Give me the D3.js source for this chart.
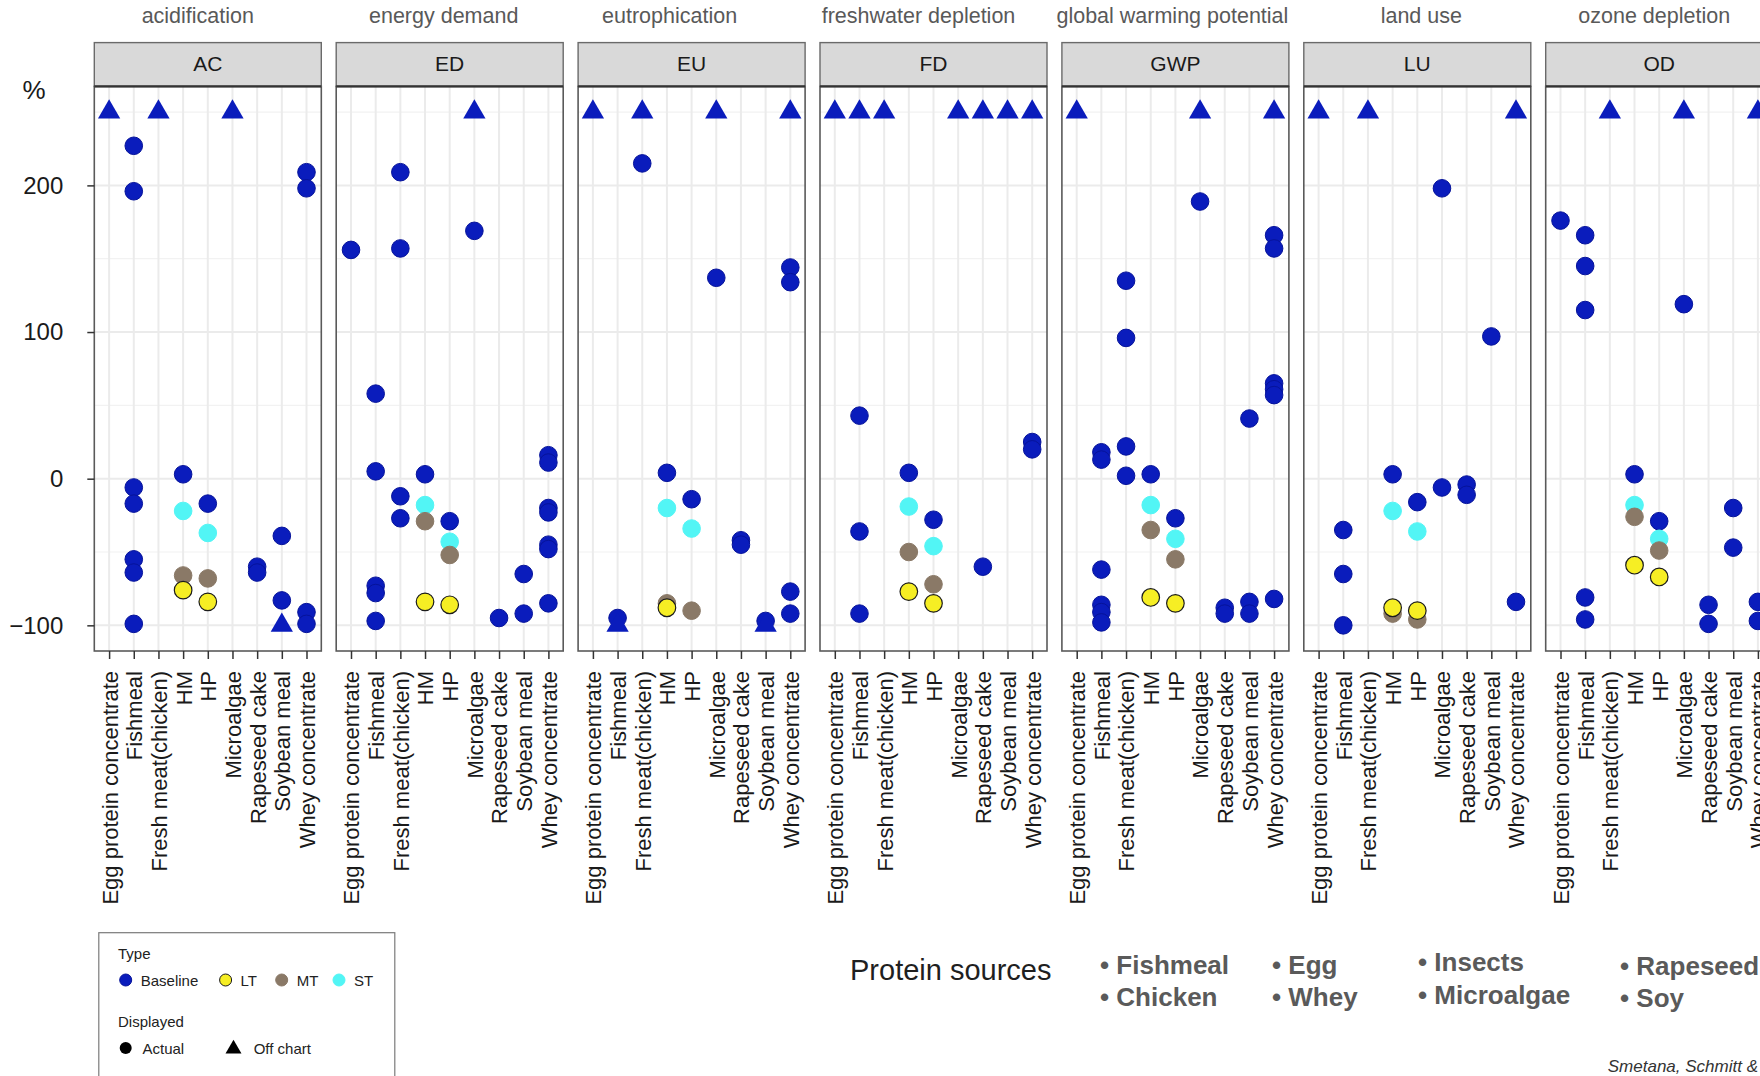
<!DOCTYPE html>
<html>
<head>
<meta charset="utf-8">
<script src="https://cdn.jsdelivr.net/npm/d3@7"></script>
<style>
  html, body { margin: 0; padding: 0; background: #fff; overflow: hidden; }
  text { font-family: "Liberation Sans", Arial, Helvetica, sans-serif; }
</style>
</head>
<body>
<svg id="chart" width="1760" height="1076"></svg>
<script>
// ---- data ---------------------------------------------------------------
const categories = ["Egg protein concentrate", "Fishmeal", "Fresh meat(chicken)", "HM", "HP",
                    "Microalgae", "Rapeseed cake", "Soybean meal", "Whey concentrate"];
const impactCodes = ["AC", "ED", "EU", "FD", "GWP", "LU", "OD"];
const impactNames = ["acidification", "energy demand", "eutrophication", "freshwater depletion",
                     "global warming potential", "land use", "ozone depletion"];
const typeNames = ["Baseline", "LT", "MT", "ST"];
const displayedNames = ["Actual", "Off chart"];
const yTicks = [-100, 0, 100, 200];
const proteinSources = [["Fishmeal", "Chicken"], ["Egg", "Whey"], ["Insects", "Microalgae"], ["Rapeseed", "Soy"]];
const citation = "Smetana, Schmitt &";

// rows: [category index, type, change in %, 1 = off chart (drawn at the cap)]
const AC = [
  [0,"Baseline",250,1], [1,"Baseline",227], [1,"Baseline",196], [1,"Baseline",-6], [1,"Baseline",-17],
  [1,"Baseline",-55], [1,"Baseline",-64], [1,"Baseline",-99], [2,"Baseline",250,1], [3,"Baseline",3],
  [4,"Baseline",-17], [5,"Baseline",250,1], [6,"Baseline",-60], [6,"Baseline",-64], [7,"Baseline",-39],
  [7,"Baseline",-83], [7,"Baseline",-100,1], [8,"Baseline",209], [8,"Baseline",198], [8,"Baseline",-91],
  [8,"Baseline",-99],
  [3,"MT",-66], [4,"MT",-68], [3,"ST",-22], [4,"ST",-37], [3,"LT",-76], [4,"LT",-84]
];
const ED = [
  [0,"Baseline",156], [1,"Baseline",58], [1,"Baseline",5], [1,"Baseline",-73], [1,"Baseline",-78],
  [1,"Baseline",-97], [2,"Baseline",209], [2,"Baseline",157], [2,"Baseline",-12], [2,"Baseline",-27],
  [3,"Baseline",3], [4,"Baseline",-29], [5,"Baseline",250,1], [5,"Baseline",169], [6,"Baseline",-95],
  [7,"Baseline",-65], [7,"Baseline",-92], [8,"Baseline",16], [8,"Baseline",11], [8,"Baseline",-20],
  [8,"Baseline",-23], [8,"Baseline",-45], [8,"Baseline",-48], [8,"Baseline",-85],
  [3,"MT",-29], [4,"MT",-52], [3,"ST",-18], [4,"ST",-43], [3,"LT",-84], [4,"LT",-86]
];
const EU = [
  [0,"Baseline",250,1], [1,"Baseline",-95], [1,"Baseline",-100,1], [2,"Baseline",250,1], [2,"Baseline",215],
  [3,"Baseline",4], [4,"Baseline",-14], [5,"Baseline",250,1], [5,"Baseline",137], [6,"Baseline",-42],
  [6,"Baseline",-45], [7,"Baseline",-97], [7,"Baseline",-100,1], [8,"Baseline",250,1], [8,"Baseline",144],
  [8,"Baseline",134], [8,"Baseline",-77], [8,"Baseline",-92],
  [3,"MT",-85], [4,"MT",-90], [3,"ST",-20], [4,"ST",-34], [3,"LT",-88]
];
const FD = [
  [0,"Baseline",250,1], [1,"Baseline",250,1], [1,"Baseline",43], [1,"Baseline",-36], [1,"Baseline",-92],
  [2,"Baseline",250,1], [3,"Baseline",4], [4,"Baseline",-28], [5,"Baseline",250,1], [6,"Baseline",250,1],
  [6,"Baseline",-60], [7,"Baseline",250,1], [8,"Baseline",250,1], [8,"Baseline",25], [8,"Baseline",20],
  [3,"MT",-50], [4,"MT",-72], [3,"ST",-19], [4,"ST",-46], [3,"LT",-77], [4,"LT",-85]
];
const GWP = [
  [0,"Baseline",250,1], [1,"Baseline",18], [1,"Baseline",13], [1,"Baseline",-62], [1,"Baseline",-86],
  [1,"Baseline",-91], [1,"Baseline",-98], [2,"Baseline",135], [2,"Baseline",96], [2,"Baseline",22],
  [2,"Baseline",2], [3,"Baseline",3], [4,"Baseline",-27], [5,"Baseline",250,1], [5,"Baseline",189],
  [6,"Baseline",-88], [6,"Baseline",-92], [7,"Baseline",41], [7,"Baseline",-84], [7,"Baseline",-92],
  [8,"Baseline",250,1], [8,"Baseline",166], [8,"Baseline",157], [8,"Baseline",65], [8,"Baseline",61],
  [8,"Baseline",57], [8,"Baseline",-82],
  [3,"MT",-35], [4,"MT",-55], [3,"ST",-18], [4,"ST",-41], [3,"LT",-81], [4,"LT",-85]
];
const LU = [
  [0,"Baseline",250,1], [1,"Baseline",-35], [1,"Baseline",-65], [1,"Baseline",-100], [2,"Baseline",250,1],
  [3,"Baseline",3], [4,"Baseline",-16], [5,"Baseline",198], [5,"Baseline",-6], [6,"Baseline",-4],
  [6,"Baseline",-11], [7,"Baseline",97], [8,"Baseline",250,1], [8,"Baseline",-84],
  [3,"MT",-92], [4,"MT",-96], [3,"ST",-22], [4,"ST",-36], [3,"LT",-88], [4,"LT",-90]
];
const OD = [
  [0,"Baseline",176], [1,"Baseline",166], [1,"Baseline",145], [1,"Baseline",115], [1,"Baseline",-81],
  [1,"Baseline",-96], [2,"Baseline",250,1], [3,"Baseline",3], [4,"Baseline",-29], [5,"Baseline",250,1],
  [5,"Baseline",119], [6,"Baseline",-86], [6,"Baseline",-99], [7,"Baseline",-20], [7,"Baseline",-47],
  [8,"Baseline",250,1], [8,"Baseline",-84], [8,"Baseline",-97],
  [3,"MT",-26], [4,"MT",-49], [3,"ST",-18], [4,"ST",-41], [3,"LT",-59], [4,"LT",-67]
];
const panelData = [AC, ED, EU, FD, GWP, LU, OD];

// ---- layout & style ----------------------------------------------------
const panelLeft0 = 94.3, panelStep = 241.9, panelW = 227;
const stripTop = 42.6, panelTop = 86.4, panelBottom = 651;
const titleShift = [-10, -6, -22, -15, -3, 4, -5];
const typeFill = { Baseline: "#0a1cbc", LT: "#f6ee24", MT: "#8a7967", ST: "#52f5f5" };
const typeStroke = { Baseline: "#06139a", LT: "#1b1b1b", MT: "#8a7967", ST: "#52f5f5" };
const drawOrder = { Baseline: 0, ST: 1, MT: 2, LT: 3 };
const dotR = 8.8;

const svg = d3.select("#chart");

const y = d3.scaleLinear().domain([-117.5, 267.5]).range([panelBottom, panelTop]);
const x = d3.scalePoint().domain(categories).range([0, panelW]).padding(0.6);
const tri = d3.symbol().type(d3.symbolTriangle).size(215);

impactCodes.forEach((code, i) => {
  const left = panelLeft0 + i * panelStep;
  const g = svg.append("g").attr("transform", `translate(${left},0)`);

  // impact name above the strip
  g.append("text")
    .attr("x", panelW / 2 + titleShift[i]).attr("y", 16)
    .attr("text-anchor", "middle").attr("dominant-baseline", "central")
    .attr("font-size", 21.5).attr("fill", "#595959")
    .text(impactNames[i]);

  // panel background and grid
  g.append("rect").attr("x", 0).attr("y", panelTop)
    .attr("width", panelW).attr("height", panelBottom - panelTop).attr("fill", "#fff");

  g.selectAll("line.minor").data([-50, 50, 150, 250]).join("line")
    .attr("x1", 0).attr("x2", panelW)
    .attr("y1", d => y(d)).attr("y2", d => y(d))
    .attr("stroke", "#f2f2f2").attr("stroke-width", 1.2);

  g.selectAll("line.major").data(yTicks).join("line")
    .attr("x1", 0).attr("x2", panelW)
    .attr("y1", d => y(d)).attr("y2", d => y(d))
    .attr("stroke", "#ebebeb").attr("stroke-width", 2);

  g.selectAll("line.vgrid").data(categories).join("line")
    .attr("x1", d => x(d)).attr("x2", d => x(d))
    .attr("y1", panelTop).attr("y2", panelBottom)
    .attr("stroke", "#ebebeb").attr("stroke-width", 2);

  // points
  const rows = panelData[i].slice().sort((a, b) => drawOrder[a[1]] - drawOrder[b[1]]);
  rows.forEach(r => {
    const cx = x(categories[r[0]]), cy = y(r[2]);
    if (r[3]) {
      g.append("path").attr("d", tri)
        .attr("transform", `translate(${cx},${cy})`)
        .attr("fill", typeFill[r[1]]);
    } else {
      g.append("circle").attr("cx", cx).attr("cy", cy).attr("r", dotR)
        .attr("fill", typeFill[r[1]])
        .attr("stroke", typeStroke[r[1]]).attr("stroke-width", r[1] === "LT" ? 1.2 : 1);
    }
  });

  // panel border
  g.append("rect").attr("x", 0).attr("y", panelTop)
    .attr("width", panelW).attr("height", panelBottom - panelTop)
    .attr("fill", "none").attr("stroke", "#5a5a5a").attr("stroke-width", 1.6);

  // strip
  g.append("rect").attr("x", 0).attr("y", stripTop)
    .attr("width", panelW).attr("height", panelTop - stripTop)
    .attr("fill", "#d9d9d9").attr("stroke", "#6a6a6a").attr("stroke-width", 1.4);
  g.append("line").attr("x1", 0).attr("x2", panelW).attr("y1", panelTop).attr("y2", panelTop)
    .attr("stroke", "#333").attr("stroke-width", 2.4);
  g.append("text")
    .attr("x", panelW / 2).attr("y", (stripTop + panelTop) / 2 - 1)
    .attr("text-anchor", "middle").attr("dominant-baseline", "central")
    .attr("font-size", 21).attr("fill", "#1a1a1a")
    .text(code);

  // x axis
  const xa = g.append("g").attr("transform", `translate(0,${panelBottom})`)
    .call(d3.axisBottom(x).tickSize(8));
  xa.select(".domain").remove();
  xa.selectAll(".tick line").attr("stroke", "#333").attr("stroke-width", 1.5);
  xa.selectAll(".tick text")
    .attr("transform", "rotate(-90)")
    .attr("text-anchor", "end")
    .attr("x", -20).attr("y", 0).attr("dy", "0.36em")
    .attr("font-size", 22).attr("fill", "#1a1a1a")
    .style("font-family", '"Liberation Sans", Arial, sans-serif');
});

// y axis
const ya = svg.append("g").attr("transform", `translate(${panelLeft0},0)`)
  .call(d3.axisLeft(y).tickValues(yTicks).tickSize(7).tickPadding(24));
ya.select(".domain").remove();
ya.selectAll(".tick line").attr("stroke", "#333").attr("stroke-width", 1.5);
ya.selectAll(".tick text").attr("font-size", 24).attr("fill", "#1a1a1a")
  .style("font-family", '"Liberation Sans", Arial, sans-serif');

svg.append("text").attr("x", 34).attr("y", 90)
  .attr("text-anchor", "middle").attr("dominant-baseline", "central")
  .attr("font-size", 26).attr("fill", "#1a1a1a").text("%");

// legend
const lg = svg.append("g");
lg.append("rect").attr("x", 98.8).attr("y", 932.7).attr("width", 296).attr("height", 170)
  .attr("fill", "#fff").attr("stroke", "#7a7a7a").attr("stroke-width", 1.2);
lg.append("text").attr("x", 118).attr("y", 953).attr("dominant-baseline", "central")
  .attr("font-size", 15).attr("fill", "#222").text("Type");
const typeX = [125.7, 225.6, 281.7, 339];
typeNames.forEach((t, k) => {
  lg.append("circle").attr("cx", typeX[k]).attr("cy", 980).attr("r", 6)
    .attr("fill", typeFill[t]).attr("stroke", typeStroke[t]).attr("stroke-width", 1);
  lg.append("text").attr("x", typeX[k] + 15).attr("y", 980).attr("dominant-baseline", "central")
    .attr("font-size", 15).attr("fill", "#222").text(t);
});
lg.append("text").attr("x", 118).attr("y", 1021).attr("dominant-baseline", "central")
  .attr("font-size", 15).attr("fill", "#222").text("Displayed");
lg.append("circle").attr("cx", 125.7).attr("cy", 1048).attr("r", 6).attr("fill", "#000");
lg.append("text").attr("x", 142.5).attr("y", 1048).attr("dominant-baseline", "central")
  .attr("font-size", 15).attr("fill", "#222").text(displayedNames[0]);
lg.append("path").attr("d", d3.symbol().type(d3.symbolTriangle).size(110))
  .attr("transform", "translate(233.5,1049)").attr("fill", "#000");
lg.append("text").attr("x", 253.7).attr("y", 1048).attr("dominant-baseline", "central")
  .attr("font-size", 15).attr("fill", "#222").text(displayedNames[1]);

// protein sources note
svg.append("text").attr("x", 850).attr("y", 970).attr("dominant-baseline", "central")
  .attr("font-size", 29).attr("fill", "#1f1f1f").text("Protein sources");
const colX = [1100, 1272, 1418, 1620];
const colY = [[965, 997], [965, 997], [962, 994.5], [966, 998]];
proteinSources.forEach((pair, c) => {
  pair.forEach((name, r) => {
    svg.append("text").attr("x", colX[c]).attr("y", colY[c][r])
      .attr("dominant-baseline", "central")
      .attr("font-size", 26).attr("font-weight", "bold").attr("fill", "#5a5a5a")
      .text("\u2022 " + name);
  });
});

svg.append("text").attr("x", 1758).attr("y", 1066).attr("text-anchor", "end")
  .attr("dominant-baseline", "central")
  .attr("font-size", 17).attr("font-style", "italic").attr("fill", "#333").text(citation);
</script>
</body>
</html>
